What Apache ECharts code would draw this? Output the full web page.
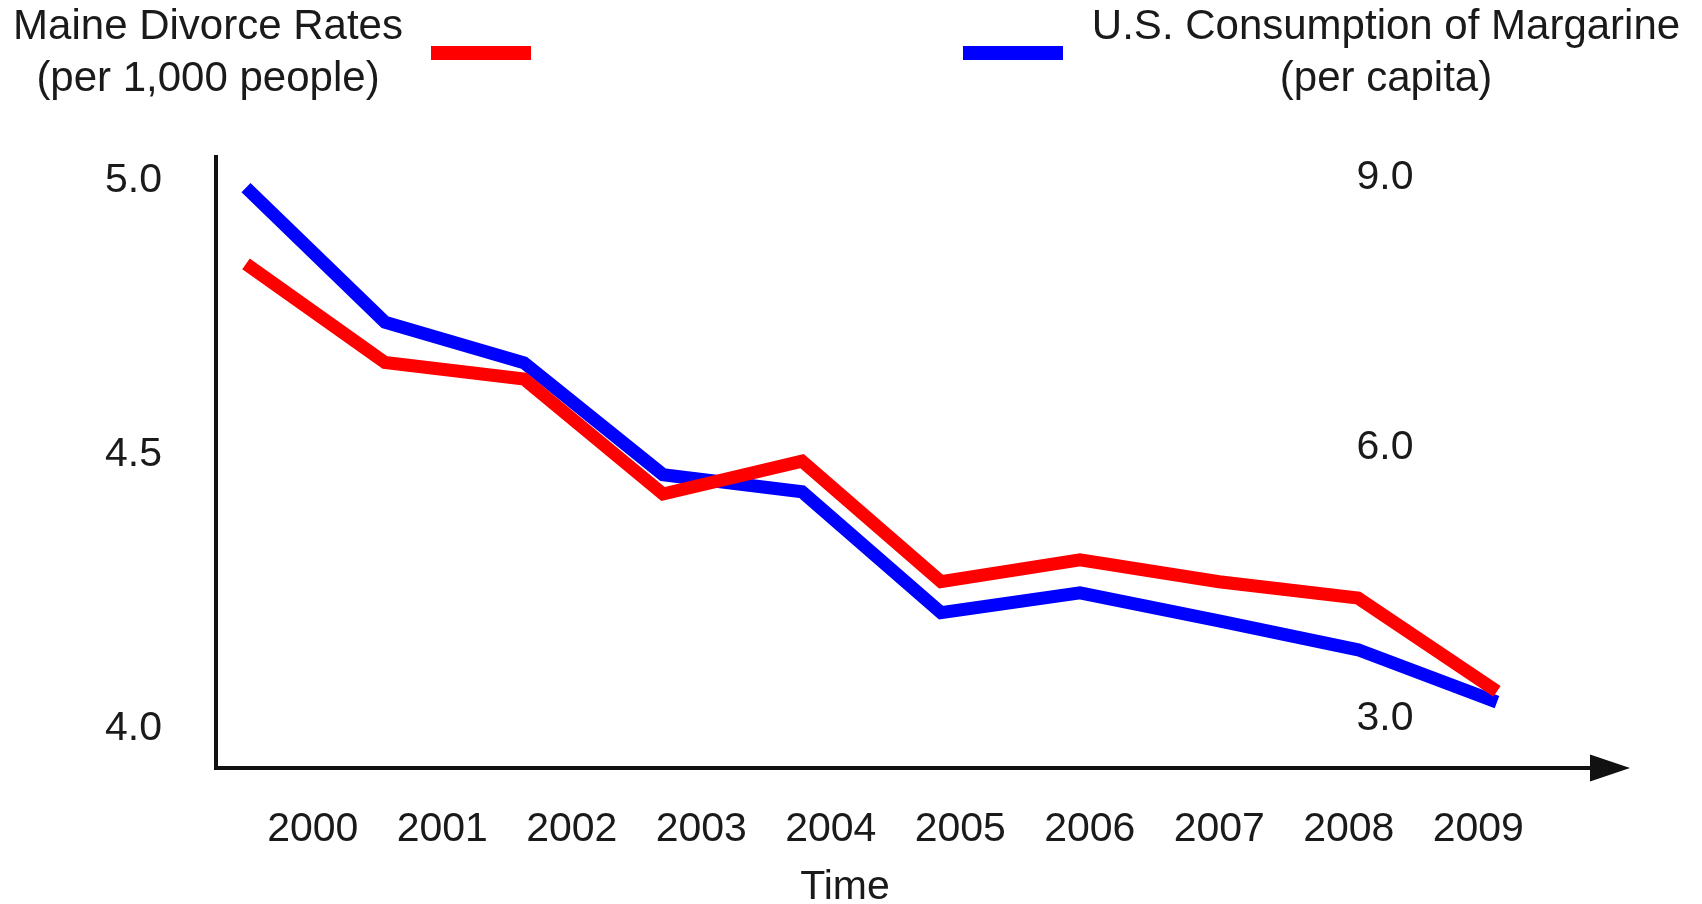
<!DOCTYPE html>
<html>
<head>
<meta charset="utf-8">
<script src="https://cdn.jsdelivr.net/npm/echarts@6/dist/echarts.min.js"></script>
<style>
html,body{margin:0;padding:0;background:#fff;}
#chart{width:1702px;height:904px;}
</style>
</head>
<body>
<div id="chart"></div>
<script>
const years = ['2000','2001','2002','2003','2004','2005','2006','2007','2008','2009'];
const divorceRates = [4.84, 4.66, 4.63, 4.42, 4.48, 4.26, 4.30, 4.26, 4.23, 4.06];
const margarine = [8.84, 7.35, 6.90, 5.66, 5.47, 4.13, 4.35, 4.04, 3.72, 3.14];
const leftTicks = [4.0, 4.5, 5.0];
const rightTicks = [3.0, 6.0, 9.0];
const seriesNames = ['Maine Divorce Rates', 'U.S. Consumption of Margarine'];
const seriesUnits = ['(per 1,000 people)', '(per capita)'];
const xAxisTitle = 'Time';

const FONT = "'Liberation Sans', Arial, Helvetica, sans-serif";
const TXT = '#1a1a1a';
const RED = '#ff0000';
const BLUE = '#0000ff';

const chart = echarts.init(document.getElementById('chart'));

function legendFormatter(name) {
  const i = seriesNames.indexOf(name);
  return '{a|' + name + '}\n{a|' + seriesUnits[i] + '}';
}

const option = {
  animation: false,
  backgroundColor: '#ffffff',
  legend: [
    {
      data: [seriesNames[0]],
      right: 1171, top: 6, padding: 0,
      align: 'right', icon: 'rect', itemWidth: 100, itemHeight: 14,
      selectedMode: false,
      formatter: legendFormatter,
      textStyle: {
        rich: { a: { width: 436, align: 'center', fontSize: 42, lineHeight: 52, fontFamily: FONT, color: TXT } }
      }
    },
    {
      data: [seriesNames[1]],
      left: 963, top: 6, padding: 0,
      align: 'left', icon: 'rect', itemWidth: 100, itemHeight: 14,
      selectedMode: false,
      formatter: legendFormatter,
      textStyle: {
        rich: { a: { width: 636, align: 'center', fontSize: 42, lineHeight: 52, fontFamily: FONT, color: TXT } }
      }
    }
  ],
  graphic: [
    { type: 'text', x: 845, y: 888, style: { text: xAxisTitle, align: 'center', verticalAlign: 'middle', font: '41px ' + FONT, fill: TXT } }
  ],
  grid: [
    { left: 246, right: 205, top: 157, bottom: 136 },   // data lines
    { left: 216, right: 92, top: 157, bottom: 136 },    // axis frame
    { left: 248, right: 159, top: 157, bottom: 136 }    // time labels
  ],
  xAxis: [
    { gridIndex: 0, type: 'category', data: years, boundaryGap: false, show: false },
    { gridIndex: 1, type: 'value', min: 0, max: 1,
      axisLine: { show: true, symbol: ['none', 'triangle'], symbolSize: [27, 40], lineStyle: { color: '#111', width: 4 } },
      axisTick: { show: false }, axisLabel: { show: false }, splitLine: { show: false } },
    { gridIndex: 2, type: 'category', data: years, boundaryGap: true,
      axisLine: { show: false }, axisTick: { show: false }, splitLine: { show: false },
      axisLabel: { margin: 41, fontSize: 41, fontFamily: FONT, color: TXT } }
  ],
  yAxis: [
    { gridIndex: 0, type: 'value', position: 'left', offset: 30, min: 3.92, max: 5.035,
      axisLine: { show: false }, axisTick: { show: false }, splitLine: { show: false },
      axisLabel: { customValues: leftTicks, formatter: v => v.toFixed(1), margin: 54, verticalAlign: 'top', lineHeight: 10, fontSize: 41, fontFamily: FONT, color: TXT } },
    { gridIndex: 0, type: 'value', position: 'right', offset: -112, min: 2.41, max: 9.18,
      axisLine: { show: false }, axisTick: { show: false }, splitLine: { show: false },
      axisLabel: { customValues: rightTicks, formatter: v => v.toFixed(1), margin: 0, align: 'center', verticalAlign: 'top', lineHeight: 8, fontSize: 41, fontFamily: FONT, color: TXT } },
    { gridIndex: 1, type: 'value', min: 0, max: 1,
      axisLine: { show: true, lineStyle: { color: '#111', width: 4, cap: 'square' } },
      axisTick: { show: false }, axisLabel: { show: false }, splitLine: { show: false } },
    { gridIndex: 2, type: 'value', show: false }
  ],
  series: [
    { name: seriesNames[1], type: 'line', xAxisIndex: 0, yAxisIndex: 1, data: margarine,
      showSymbol: false, symbol: 'none', color: BLUE,
      lineStyle: { color: BLUE, width: 13, cap: 'butt', join: 'miter' } },
    { name: seriesNames[0], type: 'line', xAxisIndex: 0, yAxisIndex: 0, data: divorceRates,
      showSymbol: false, symbol: 'none', color: RED,
      lineStyle: { color: RED, width: 13, cap: 'butt', join: 'miter' } }
  ]
};
chart.setOption(option);
</script>
</body>
</html>
